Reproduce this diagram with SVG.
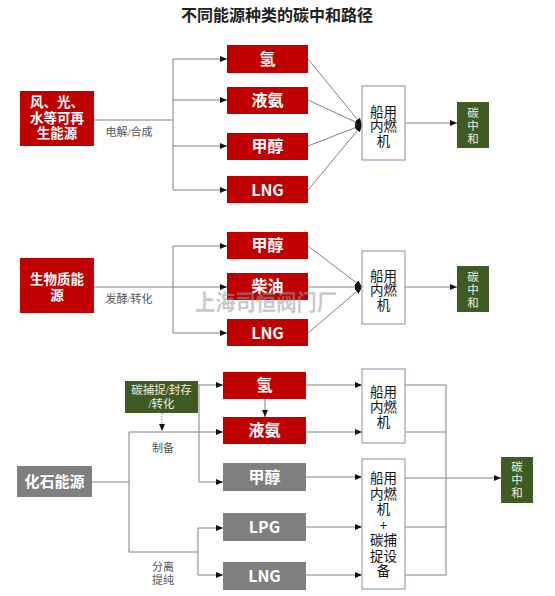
<svg xmlns="http://www.w3.org/2000/svg" width="555" height="596" viewBox="0 0 555 596">
<defs>
<marker id="ah" markerUnits="userSpaceOnUse" markerWidth="7" markerHeight="7" refX="7" refY="3.5" orient="auto">
<path d="M0,0.5 L7,3.5 L0,6.5 z" fill="#111"/>
</marker>
</defs>
<style>
.red{fill:#C00000}
.gray{fill:#7F7F7F}
.grn{fill:#3F5B24}
.eng{fill:#fff;stroke:#8FA3BA;stroke-width:1.2}
.ln{stroke:#808080;stroke-width:1;fill:none}
.ar{stroke:#808080;stroke-width:1;fill:none;marker-end:url(#ah)}
.bt{font-family:"Noto Sans CJK SC","Liberation Sans",sans-serif;font-weight:bold;fill:#fff;text-anchor:middle}
.et{font-family:"Noto Sans CJK SC","Liberation Sans",sans-serif;font-size:13.5px;fill:#111;text-anchor:middle}
.st{font-family:"Liberation Serif","Noto Sans CJK SC",serif;fill:#eef0e0;text-anchor:middle;font-size:11.5px}
.lb{font-family:"Liberation Serif","Noto Sans CJK SC",serif;fill:#555;text-anchor:middle;font-size:11px}
</style>
<rect width="555" height="596" fill="#fff"/>
<text x="277" y="21" font-family="'Noto Sans CJK SC','Liberation Sans',sans-serif" font-weight="bold" font-size="16" fill="#222" text-anchor="middle">不同能源种类的碳中和路径</text>

<g id="connectors">
<!-- top -->
<path class="ln" d="M94,120 H173 M173,59 V190"/>
<path class="ar" d="M173,59 H227"/>
<path class="ar" d="M173,100 H227"/>
<path class="ar" d="M173,146 H227"/>
<path class="ar" d="M173,190 H227"/>
<path class="ar" d="M308,59 L362,125"/>
<path class="ar" d="M308,100 L362,125"/>
<path class="ar" d="M308,146 L362,125"/>
<path class="ar" d="M308,190 L362,125"/>
<path class="ar" d="M405,123 H457"/>
<!-- middle -->
<path class="ln" d="M173,246 V333"/>
<path class="ar" d="M94,287 H227"/>
<path class="ar" d="M173,246 H227"/>
<path class="ar" d="M173,333 H227"/>
<path class="ar" d="M308,246 L362,287"/>
<path class="ar" d="M308,287 L362,287"/>
<path class="ar" d="M308,333 L362,287"/>
<path class="ar" d="M405,287 H457"/>
<!-- bottom -->
<path class="ln" d="M92,482 H129 M129,432 V552 H198 M198,528 V575"/>
<path class="ar" d="M129,432 H223"/>
<path class="ar" d="M198,528 H223"/>
<path class="ar" d="M198,575 H223"/>
<path class="ar" d="M198,385 H223"/>
<path class="ar" d="M199,385 V482 H223"/>
<path d="M162,413 V431" stroke="#808080" stroke-width="1" stroke-dasharray="1.5,1.5" fill="none" marker-end="url(#ah)"/>
<path class="ar" d="M265,399 V417"/>
<path class="ar" d="M306,385 H362"/>
<path class="ar" d="M306,432 H362"/>
<path class="ar" d="M306,477 H362"/>
<path class="ar" d="M306,527 H362"/>
<path class="ar" d="M306,575 H362"/>
<path class="ln" d="M405,385 H446 M405,432 H446 M405,527 H446 M405,575 H446 M446,385 V575"/>
<path class="ar" d="M405,478 H501"/>
</g>

<g id="labels">
<text class="lb" x="129" y="136">电解/合成</text>
<text class="lb" x="129" y="303">发酵/转化</text>
<text class="lb" x="163" y="452">制备</text>
<text class="lb" x="163" y="571">分离</text>
<text class="lb" x="163" y="584">提纯</text>
</g>

<!-- top section -->
<g id="src-renewable"><rect class="red" x="20" y="91" width="74" height="55"/>
<text class="bt" font-size="13.5"><tspan x="57" y="107">风、光、</tspan><tspan x="57" y="122.5">水等可再</tspan><tspan x="57" y="138">生能源</tspan></text></g>
<g id="t-h2"><rect class="red" x="227" y="45" width="81" height="28"/><text class="bt" font-size="16" x="267.5" y="65">氢</text></g>
<g id="t-nh3"><rect class="red" x="227" y="87" width="81" height="27"/><text class="bt" font-size="16" x="267.5" y="106">液氨</text></g>
<g id="t-meoh"><rect class="red" x="227" y="133" width="81" height="27"/><text class="bt" font-size="16" x="267.5" y="152">甲醇</text></g>
<g id="t-lng"><rect class="red" x="227" y="176" width="81" height="27"/><text class="bt" font-size="16" x="267.5" y="195.5">LNG</text></g>
<g id="t-engine"><rect class="eng" x="362" y="86" width="43" height="74"/>
<text class="et"><tspan x="383.5" y="116.5">船用</tspan><tspan x="383.5" y="131">内燃</tspan><tspan x="383.5" y="145.5">机</tspan></text></g>
<g id="t-neutral"><rect class="grn" x="457" y="102" width="32" height="46"/>
<text class="st"><tspan x="473" y="117">碳</tspan><tspan x="473" y="130">中</tspan><tspan x="473" y="143">和</tspan></text></g>

<!-- middle section -->
<g id="src-bio"><rect class="red" x="20" y="258" width="74" height="55"/>
<text class="bt" font-size="13.5"><tspan x="57" y="284">生物质能</tspan><tspan x="57" y="299.5">源</tspan></text></g>
<g id="m-meoh"><rect class="red" x="227" y="232" width="81" height="27"/><text class="bt" font-size="16" x="267.5" y="251">甲醇</text></g>
<g id="m-diesel"><rect class="red" x="227" y="273" width="81" height="27"/><text class="bt" font-size="16" x="267.5" y="292">柴油</text></g>
<g id="m-lng"><rect class="red" x="227" y="319" width="81" height="27"/><text class="bt" font-size="16" x="267.5" y="338.5">LNG</text></g>
<g id="m-engine"><rect class="eng" x="362" y="251" width="43" height="73"/>
<text class="et"><tspan x="383.5" y="280.5">船用</tspan><tspan x="383.5" y="295">内燃</tspan><tspan x="383.5" y="309.5">机</tspan></text></g>
<g id="m-neutral"><rect class="grn" x="457" y="266" width="32" height="46"/>
<text class="st"><tspan x="473" y="281">碳</tspan><tspan x="473" y="294">中</tspan><tspan x="473" y="307">和</tspan></text></g>

<!-- bottom section -->
<g id="src-fossil"><rect class="gray" x="17" y="466" width="75" height="31"/><text class="bt" font-size="15" x="54.5" y="487">化石能源</text></g>
<g id="b-ccs"><rect class="grn" x="125" y="381" width="73" height="32"/>
<text class="st" font-size="11.5"><tspan x="161.5" y="394">碳捕捉/封存</tspan><tspan x="161.5" y="408">/转化</tspan></text></g>
<g id="b-h2"><rect class="red" x="223" y="372" width="83" height="27"/><text class="bt" font-size="16" x="264.5" y="391">氢</text></g>
<g id="b-nh3"><rect class="red" x="223" y="417" width="83" height="27"/><text class="bt" font-size="16" x="264.5" y="436">液氨</text></g>
<g id="b-meoh"><rect class="gray" x="223" y="463" width="83" height="28"/><text class="bt" font-size="16" x="264.5" y="483">甲醇</text></g>
<g id="b-lpg"><rect class="gray" x="223" y="513" width="83" height="28"/><text class="bt" font-size="16" x="264.5" y="533">LPG</text></g>
<g id="b-lng"><rect class="gray" x="223" y="562" width="83" height="28"/><text class="bt" font-size="16" x="264.5" y="582">LNG</text></g>
<g id="b-engine1"><rect class="eng" x="362" y="369" width="43" height="74"/>
<text class="et"><tspan x="383.5" y="397">船用</tspan><tspan x="383.5" y="412">内燃</tspan><tspan x="383.5" y="427">机</tspan></text></g>
<g id="b-engine2"><rect class="eng" x="362" y="459" width="43" height="130"/>
<text class="et"><tspan x="383.5" y="483">船用</tspan><tspan x="383.5" y="498.5">内燃</tspan><tspan x="383.5" y="514">机</tspan><tspan x="383.5" y="529.5">+</tspan><tspan x="383.5" y="545">碳捕</tspan><tspan x="383.5" y="560.5">捉设</tspan><tspan x="383.5" y="576">备</tspan></text></g>
<g id="b-neutral"><rect class="grn" x="501" y="457" width="32" height="46"/>
<text class="st"><tspan x="517" y="471">碳</tspan><tspan x="517" y="484">中</tspan><tspan x="517" y="497">和</tspan></text></g>

<text x="266" y="310" font-family="'Noto Sans CJK SC',sans-serif" font-weight="bold" font-size="22" fill="#9a9a9a" fill-opacity="0.55" text-anchor="middle" textLength="142" lengthAdjust="spacingAndGlyphs">上海司恒阀门厂</text>
</svg>
